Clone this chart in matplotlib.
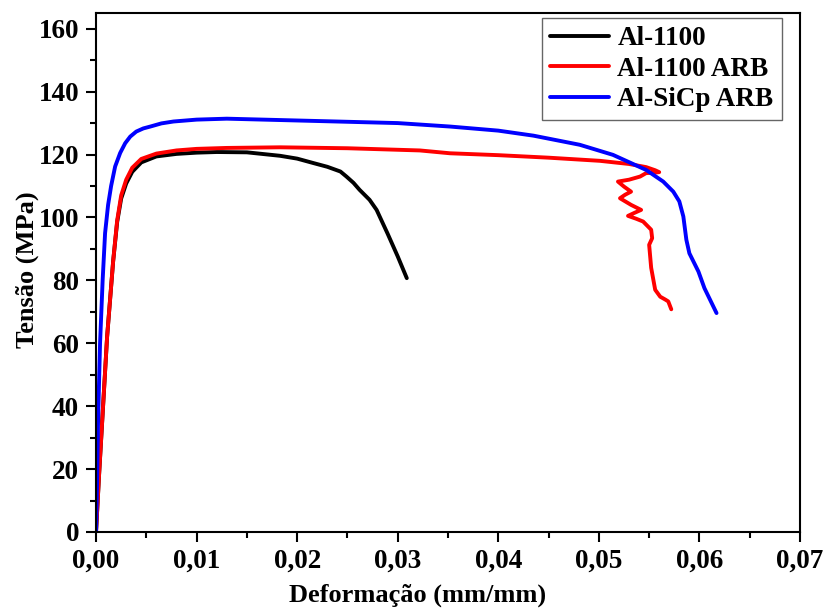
import numpy as np
import matplotlib.pyplot as plt
from matplotlib.ticker import MultipleLocator, FuncFormatter

plt.rcParams["font.family"] = ["Liberation Serif", "DejaVu Serif"]
plt.rcParams["font.weight"] = "bold"

# ---------- data ----------
labels = ["Al-1100", "Al-1100 ARB", "Al-SiCp ARB"]
colors = ["black", "red", "blue"]

al_strain = [0.0, 0.0003, 0.0007, 0.0011, 0.0014, 0.0017, 0.0021, 0.0025, 0.0030,
             0.0036, 0.0045, 0.0060, 0.0080, 0.0100, 0.0120, 0.0150, 0.0183,
             0.0200, 0.0216, 0.0230, 0.0243, 0.0249, 0.0256, 0.0262, 0.0272,
             0.0279, 0.0290, 0.0300, 0.0309]
al_stress = [0.0, 18.0, 40.0, 62.0, 74.0, 86.0, 98.5, 106.0, 110.8,
             114.5, 117.5, 119.4, 120.2, 120.6, 120.8, 120.7, 119.6,
             118.7, 117.3, 116.1, 114.6, 113.0, 111.0, 108.8, 105.6,
             102.4, 94.8, 87.6, 80.7]

arb_strain = [0.0, 0.0003, 0.0007, 0.0011, 0.0014, 0.0017, 0.0021, 0.0025, 0.0030,
              0.0036, 0.0045, 0.0060, 0.0080, 0.0100, 0.0130, 0.0183, 0.0250,
              0.0322, 0.0352, 0.0400, 0.0450, 0.0501, 0.0530, 0.0547, 0.0556,
              0.0560, 0.0554, 0.0547, 0.0541, 0.0530, 0.0519, 0.0525, 0.0532,
              0.0526, 0.0521, 0.0532, 0.0542, 0.0535, 0.0529, 0.0537, 0.0544,
              0.0552, 0.0553, 0.0550, 0.0552, 0.0556, 0.0561, 0.0566, 0.0569,
              0.0572]
arb_stress = [0.0, 18.0, 40.0, 62.0, 74.0, 86.0, 99.0, 107.0, 112.0,
              115.8, 118.6, 120.3, 121.3, 121.8, 122.1, 122.3, 122.0,
              121.3, 120.4, 119.8, 119.0, 118.0, 117.0, 116.0, 115.0,
              114.4, 114.2, 114.1, 113.0, 112.0, 111.4, 109.8, 108.2,
              107.2, 106.1, 104.0, 102.4, 101.4, 100.5, 99.6, 98.7,
              96.1, 93.4, 91.3, 84.0, 77.0, 74.8, 73.9, 73.3,
              70.8]

sic_strain = [0.0, 0.0001, 0.0002, 0.0004, 0.00066, 0.0009, 0.0012, 0.0015, 0.0019,
              0.0024, 0.0029, 0.0034, 0.0040, 0.0047, 0.0054, 0.0065, 0.0077,
              0.0100, 0.0130, 0.0203, 0.0300, 0.0352, 0.0400, 0.0435, 0.0481,
              0.0514, 0.0547, 0.0564, 0.0574, 0.0580, 0.0584, 0.0587, 0.0590,
              0.0599, 0.0605, 0.0617]
sic_stress = [0.0, 15.0, 35.0, 60.0, 80.2, 95.0, 104.0, 110.0, 116.2,
              120.5, 123.6, 125.7, 127.3, 128.3, 128.9, 129.9, 130.5,
              131.1, 131.4, 130.8, 130.0, 128.9, 127.6, 126.0, 123.1,
              119.9, 115.1, 111.4, 108.2, 105.1, 100.3, 92.9, 88.6,
              82.8, 77.5, 69.6]

series = [(al_strain, al_stress), (arb_strain, arb_stress), (sic_strain, sic_stress)]

# ---------- figure ----------
fig = plt.figure(figsize=(8.25, 6.1), dpi=100)
ax = fig.add_axes([0.1164, 0.1279, 0.8533, 0.8508])

for (x, y), c, lab in zip(series, colors, labels):
    ax.plot(x, y, color=c, lw=2.8, label=lab,
            solid_joinstyle="round", solid_capstyle="round")

ax.set_xlim(0, 0.07)
ax.set_ylim(0, 165)
ax.xaxis.set_major_locator(MultipleLocator(0.01))
ax.xaxis.set_minor_locator(MultipleLocator(0.005))
ax.yaxis.set_major_locator(MultipleLocator(20))
ax.yaxis.set_minor_locator(MultipleLocator(10))
ax.xaxis.set_major_formatter(FuncFormatter(lambda v, p: f"{v:.2f}".replace(".", ",")))

ax.tick_params(which="both", direction="out", top=False, right=False, width=1.5)
ax.tick_params(which="major", length=7.2, labelsize=19.5, pad=5)
ax.tick_params(which="minor", length=4.3)
for s in ax.spines.values():
    s.set_linewidth(1.5)

ax.set_xlabel("Deformação (mm/mm)", fontsize=19, fontweight="bold")
ax.set_ylabel("Tensão (MPa)", fontsize=19, fontweight="bold")
ax.xaxis.set_label_coords(0.4567, -0.100)
ax.yaxis.set_label_coords(-0.081, 0.505)

leg = ax.legend(loc="upper right", bbox_to_anchor=(0.974, 0.990), fontsize=19.5,
                handlelength=2.2, fancybox=False, edgecolor="0.4", framealpha=1,
                borderaxespad=0, handletextpad=0.3, labelspacing=0.2,
                borderpad=0.3)
leg.get_frame().set_linewidth(1.0)

fig.savefig("out.png", dpi=100)
